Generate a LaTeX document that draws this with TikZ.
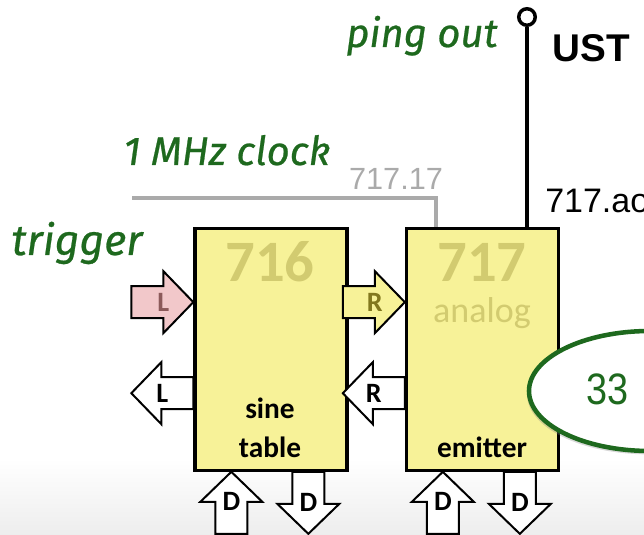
\documentclass[tikz,border=0pt]{standalone}
\usepackage{fontspec}
\setmainfont{Carlito}
\newfontfamily\arialfont{Liberation Sans}
\newfontfamily\handfont{Fira Sans}[FakeBold=0.6]
\usetikzlibrary{calc,shapes.geometric,shadows}

\definecolor{blkyellow}{RGB}{247,242,152}
\definecolor{numgray}{RGB}{210,203,112}
\definecolor{handgreen}{RGB}{30,105,30}
\definecolor{trigpink}{RGB}{242,200,202}
\definecolor{pinktext}{RGB}{140,90,90}
\definecolor{olivetext}{RGB}{130,120,30}
\definecolor{clkgray}{RGB}{170,170,170}

\tikzset{
  blk/.style={draw=black, line width=2.5pt, fill=blkyellow, minimum width=114pt, minimum height=181pt, inner sep=0pt},
  chipnum/.style={text=numgray, font=\bfseries\fontsize{44}{44}\selectfont},
  chipsub/.style={text=numgray, font=\fontsize{27}{27}\selectfont},
  role/.style={font=\bfseries\fontsize{22}{22}\selectfont, anchor=base},
  hand/.style={text=handgreen, font=\handfont\itshape\fontsize{30}{30}\selectfont, anchor=base},
  sig/.style={font=\arialfont\fontsize{23}{23}\selectfont, anchor=base, inner sep=0pt},
  wire/.style={line width=3pt},
  barrow/.style={draw=black, line width=1.5pt, line join=miter},
  arrlbl/.style={font=\bfseries\fontsize{21}{21}\selectfont, inner sep=0pt},
  % block arrow, tip at the origin
  pics/arrin/.style n args={3}{code={
    \draw[barrow, fill=#1] (0,0) -- (-30,-31) -- (-30,-16) -- (-62,-16) -- (-62,16) -- (-30,16) -- (-30,31) -- cycle;
    \node[arrlbl, text=#3] (-lbl) at (-30,0) {#2};
  }},
  % block arrow, tail at the origin
  pics/arrout/.style n args={3}{code={
    \draw[barrow, fill=#1] (62,0) -- (32,-31) -- (32,-16) -- (0,-16) -- (0,16) -- (32,16) -- (32,31) -- cycle;
    \node[arrlbl, text=#3] (-lbl) at (31,0) {#2};
  }},
}

\begin{document}
\begin{tikzpicture}[x=0.75pt,y=-0.75pt]
  \useasboundingbox (0,0) rectangle (644,535);
  % floor shading
  \shade[top color=white, bottom color=black!7] (0,458) rectangle (644,535);

  % chips
  \node[blk] (b716) at (271,349.5) {};
  \node[blk] (b717) at (482.5,349.5) {};
  \node[chipnum] (n716) at (270,262) {716};
  \node[chipnum] (n717) at (482,262) {717};
  \node[chipsub] (sub717) at (482,313) {analog};
  \node[role] (sine) at (270,418) {sine};
  \node[role] (table) at (270,457) {table};
  \node[role] (emit) at (482,457) {emitter};

  % clock and ping wires
  \coordinate (clk) at (132,198);
  \draw[wire, draw=clkgray] (clk) -| ($(b717.north west)+(31,0)$);
  \node[circle, draw, line width=2.6pt, minimum size=12.4pt, inner sep=0pt] (ping) at (527,17) {};
  \draw[wire] (ping.south) -- (ping.south |- b717.north);

  % labels
  \node[hand] (pingtxt) at (422,47) {ping out};
  \node[font=\arialfont\bfseries\fontsize{29}{29}\selectfont, anchor=base] (usttxt) at (591,62) {UST};
  \node[hand] (clktxt) at (227,165) {1 MHz clock};
  \node[sig, text=clkgray] (clknet) at (396,190) {717.17};
  \node[sig, anchor=base west, font=\arialfont\fontsize{25.5}{25.5}\selectfont] (aonet) at (545,213) {717.ao};
  \node[hand] (trigtxt) at (77,255) {\fontsize{32}{32}\selectfont trigger};

  % side arrows
  \pic (trig) at ($(b716.north west)+(0,75)$) {arrin={trigpink}{L}{pinktext}};
  \pic[rotate=180] (lout) at ($(b716.north west)+(0,166)$) {arrout={white}{L}{black}};
  \pic (rin) at ($(b717.north west)+(0,75)$) {arrin={blkyellow}{R}{olivetext}};
  \pic[rotate=180] (rout) at ($(b717.north west)+(0,166)$) {arrout={white}{R}{black}};
  % data arrows
  \foreach \b in {b716,b717} {
    \pic[rotate=90] (\b din) at ($(\b.south west)+(38,0)$) {arrin={white}{D}{black}};
    \pic[rotate=-90] (\b dout) at ($(\b.south west)+(115,0)$) {arrout={white}{D}{black}};
  }

  % page tag
  \node[ellipse, draw=handgreen, line width=3.4pt, fill=white, minimum width=181.5pt, minimum height=90pt, inner sep=0pt,
        drop shadow={opacity=.3, shadow xshift=-1.5pt, shadow yshift=-2.5pt}] (page) at (650,391) {};
  \node[text=handgreen, font=\arialfont\fontsize{33}{33}\selectfont] (pagenum) at (608,389) {\scalebox{.86}[1]{33}};
\end{tikzpicture}
\end{document}
